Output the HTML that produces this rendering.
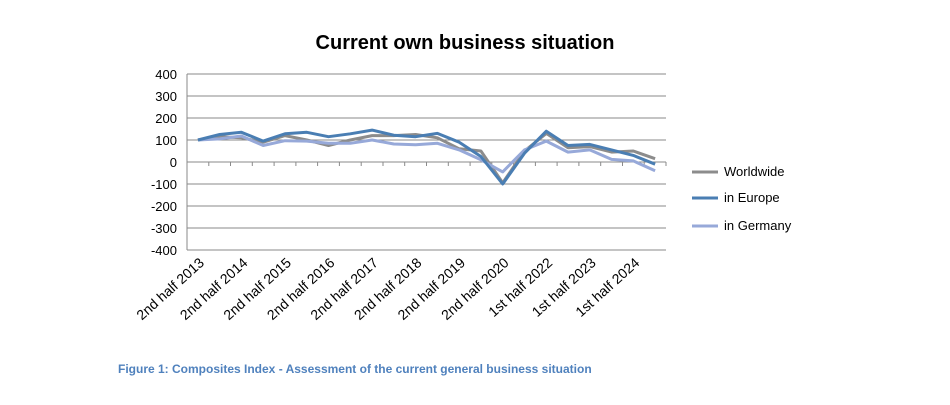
<!DOCTYPE html>
<html><head><meta charset="utf-8"><style>
body{margin:0;background:#fff;}
svg text{font-family:"Liberation Sans",sans-serif;}
</style></head><body>
<svg width="950" height="400" viewBox="0 0 950 400" xmlns="http://www.w3.org/2000/svg">
<text x="465" y="49" text-anchor="middle" font-size="20" font-weight="bold" fill="#000">Current own business situation</text>
<g stroke="#8a8a8a" stroke-width="1">
<line x1="187" y1="74" x2="666" y2="74"/>
<line x1="187" y1="96" x2="666" y2="96"/>
<line x1="187" y1="118" x2="666" y2="118"/>
<line x1="187" y1="140" x2="666" y2="140"/>
<line x1="187" y1="162" x2="666" y2="162"/>
<line x1="187" y1="184" x2="666" y2="184"/>
<line x1="187" y1="206" x2="666" y2="206"/>
<line x1="187" y1="228" x2="666" y2="228"/>
<line x1="187" y1="250" x2="666" y2="250"/>
<line x1="187" y1="74" x2="187" y2="250"/>
<path d="M208.8 162v4M230.5 162v4M252.3 162v4M274.1 162v4M295.9 162v4M317.6 162v4M339.4 162v4M361.2 162v4M383 162v4M404.7 162v4M426.5 162v4M448.3 162v4M470.1 162v4M491.8 162v4M513.6 162v4M535.4 162v4M557.1 162v4M578.9 162v4M600.7 162v4M622.5 162v4M644.2 162v4M666 162v4"/>
</g>
<g font-size="13" text-anchor="end" fill="#000">
<text x="177" y="79">400</text><text x="177" y="101">300</text><text x="177" y="123">200</text>
<text x="177" y="145">100</text><text x="177" y="167">0</text><text x="177" y="189">-100</text>
<text x="177" y="211">-200</text><text x="177" y="233">-300</text><text x="177" y="255">-400</text>
</g>
<g fill="none" stroke-width="3" stroke-linejoin="round">
<polyline stroke="#8c8c8c" points="197.9,140 219.7,136.7 241.4,137.8 263.2,142.2 285,135.6 306.8,140 328.5,145.5 350.3,140 372.1,135.6 393.8,135.6 415.6,134.5 437.4,137.8 459.2,148.8 480.9,151 502.7,182.9 524.5,151 546.3,133.4 568,147.7 589.8,146.6 611.6,152.1 633.3,151 655.1,158.7"/>
<polyline stroke="#97a9d9" points="197.9,140 219.7,138.9 241.4,136 263.2,145.5 285,140.7 306.8,141.1 328.5,143.3 350.3,143.3 372.1,140 393.8,144 415.6,144.8 437.4,143.3 459.2,149.9 480.9,159.8 502.7,171.9 524.5,149.9 546.3,141.1 568,152.1 589.8,149.9 611.6,159.4 633.3,160.9 655.1,170.8"/>
<polyline stroke="#4a7eb3" points="197.9,140 219.7,134.5 241.4,132.3 263.2,141.1 285,133.8 306.8,132.3 328.5,136.7 350.3,133.8 372.1,130.1 393.8,135.2 415.6,136.7 437.4,133.4 459.2,142.2 480.9,156.5 502.7,184 524.5,153.2 546.3,131.2 568,145.5 589.8,144.4 611.6,149.9 633.3,155.4 655.1,164.2"/>
</g>
<g font-size="14" fill="#000" text-anchor="end">
<text transform="translate(205,264) rotate(-42)">2nd  half 2013</text>
<text transform="translate(248.5,264) rotate(-42)">2nd half 2014</text>
<text transform="translate(292,264) rotate(-42)">2nd half 2015</text>
<text transform="translate(335.5,264) rotate(-42)">2nd half 2016</text>
<text transform="translate(379,264) rotate(-42)">2nd half 2017</text>
<text transform="translate(422.6,264) rotate(-42)">2nd half 2018</text>
<text transform="translate(466.2,264) rotate(-42)">2nd half 2019</text>
<text transform="translate(509.7,264) rotate(-42)">2nd half 2020</text>
<text transform="translate(553.3,264) rotate(-42)">1st half 2022</text>
<text transform="translate(596.8,264) rotate(-42)">1st half 2023</text>
<text transform="translate(640.4,264) rotate(-42)">1st half 2024</text>
</g>
<g stroke-width="3">
<line x1="692" y1="172" x2="718" y2="172" stroke="#8c8c8c"/>
<line x1="692" y1="198" x2="718" y2="198" stroke="#4a7eb3"/>
<line x1="692" y1="226" x2="718" y2="226" stroke="#97a9d9"/>
</g>
<g font-size="13" fill="#000">
<text x="724" y="176">Worldwide</text>
<text x="724" y="202">in Europe</text>
<text x="724" y="230">in Germany</text>
</g>
<text x="118" y="373" font-size="12" font-weight="bold" fill="#4f81bd">Figure 1: Composites Index - Assessment of the current general business situation</text>
</svg>
</body></html>
